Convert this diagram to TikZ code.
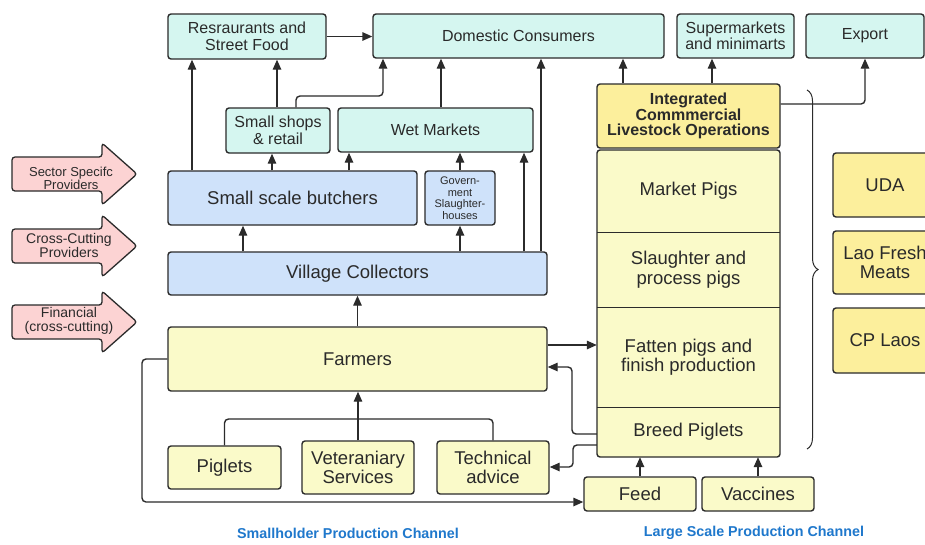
\documentclass[tikz,border=0pt]{standalone}
\usepackage{fontspec}
\setmainfont{Liberation Sans}
\usetikzlibrary{arrows.meta,decorations.pathreplacing}
\definecolor{lc}{HTML}{2B2B2B}
\definecolor{tc}{HTML}{2A2A2A}
\definecolor{cyanf}{HTML}{D5F6F0}
\definecolor{bluef}{HTML}{CFE2FA}
\definecolor{yelf}{HTML}{FAFAC9}
\definecolor{yeltwo}{HTML}{FCEF9C}
\definecolor{pinkf}{HTML}{FCD3D3}
\definecolor{labblue}{HTML}{1F78CC}
\tikzset{
  base/.style={draw=lc, line width=1.4pt, rounded corners=3pt, align=center, inner sep=0pt, text=tc},
  cyanbox/.style={base, fill=cyanf, font=\fontsize{16}{16.5}\selectfont},
  bluebox/.style={base, fill=bluef, font=\fontsize{18.5}{19.5}\selectfont},
  yelbox/.style={base, fill=yelf, font=\fontsize{18.5}{19}\selectfont},
  corpbox/.style={base, fill=yeltwo, font=\fontsize{18.5}{19.5}\selectfont},
  stage/.style={align=center, inner sep=0pt, text=tc, minimum width=183pt, font=\fontsize{18.5}{19.5}\selectfont},
  conn/.style={draw=lc, line width=1.4pt, rounded corners=4pt},
  arr/.style={conn, -{Triangle[length=10pt,width=8.5pt]}},
  pinkarrow/.style={draw=lc, line width=1.3pt, fill=pinkf, rounded corners=3pt},
  pinktext/.style={align=center, inner sep=0pt, text=tc},
  chan/.style={font=\fontsize{14.3}{15}\selectfont\bfseries, text=labblue, inner sep=0pt}
}
\begin{document}
\begin{tikzpicture}[x=1pt,y=-1pt]
\useasboundingbox (0,0) rectangle (925,544);
\fill[white] (0,0) rectangle (925,544);

% top row
\node[cyanbox, minimum width=158pt, minimum height=45pt] (rest) at (247,36.5) {Resraurants and\\Street Food};
\node[cyanbox, minimum width=291pt, minimum height=44pt] (dom) at (518.5,36) {Domestic Consumers};
\node[cyanbox, minimum width=117pt, minimum height=44pt] (sup) at (735.5,36) {Supermarkets\\and minimarts};
\node[cyanbox, minimum width=118pt, minimum height=44pt] (exp) at (865,36) {Export};

% retail row
\node[cyanbox, minimum width=104pt, minimum height=45pt] (shops) at (278,130.5) {Small shops\\\& retail};
\node[cyanbox, minimum width=195pt, minimum height=44pt] (wet) at (435.5,130) {Wet Markets};

% butchers row
\node[bluebox, minimum width=249pt, minimum height=54pt] (but) at (292.5,198) {Small scale butchers};
\node[base, fill=bluef, font=\fontsize{11}{11.5}\selectfont, minimum width=70pt, minimum height=54pt] (gov) at (460,198) {Govern-\\ment\\Slaughter-\\houses};

% village collectors, farmers
\node[bluebox, minimum width=379pt, minimum height=43pt] (vc) at (357.5,273.5) {Village Collectors};
\node[yelbox, minimum width=379pt, minimum height=64pt] (farm) at (357.5,359) {Farmers};

% inputs
\node[yelbox, minimum width=113pt, minimum height=43pt] (pig) at (224.5,467.5) {Piglets};
\node[yelbox, minimum width=112pt, minimum height=53pt] (vet) at (358,467.5) {Veteraniary\\Services};
\node[yelbox, minimum width=112pt, minimum height=53pt] (tech) at (493,467.5) {Technical\\advice};
\node[yelbox, minimum width=112pt, minimum height=34pt] (feed) at (640,494) {Feed};
\node[yelbox, minimum width=112pt, minimum height=34pt] (vac) at (758,494) {Vaccines};

% integrated operations
\node[base, fill=yeltwo, font=\fontsize{16}{15.5}\selectfont\bfseries, minimum width=183pt, minimum height=64pt] (int) at (688.5,116) {Integrated\\Commmercial\\Livestock Operations};
\filldraw[fill=yelf, draw=lc, line width=1.4pt, rounded corners=3pt] (597,150) rectangle (780,457);
\node[stage, minimum height=82pt] (market) at (688.5,191) {Market Pigs};
\node[stage, minimum height=75pt] (slaughter) at (688.5,269.5) {Slaughter and\\process pigs};
\node[stage, minimum height=100pt] (fatten) at (688.5,357) {Fatten pigs and\\finish production};
\node[stage, minimum height=50pt] (breed) at (688.5,432) {Breed Piglets};
\draw[lc, line width=1.4pt] (market.south west) -- (market.south east);
\draw[lc, line width=1.4pt] (slaughter.south west) -- (slaughter.south east);
\draw[lc, line width=1.4pt] (fatten.south west) -- (fatten.south east);

% companies
\node[corpbox, minimum width=104pt, minimum height=64pt] (uda) at (885,185) {UDA};
\node[corpbox, minimum width=104pt, minimum height=63pt] (lao) at (885,262.5) {Lao Fresh\\Meats};
\node[corpbox, minimum width=104pt, minimum height=65pt] (cp) at (885,340.5) {CP Laos};

% brace
\draw[lc, line width=1pt, decorate, decoration={brace, amplitude=11pt}] (807,90) -- (807,449);

% pink arrows
\draw[pinkarrow] (12,157) -- (102,157) -- (102,143) -- (137,174) -- (102,205) -- (102,191) -- (12,191) -- cycle;
\node[pinktext, font=\fontsize{13}{12}\selectfont] (sector) at (71,178) {Sector Specifc\\Providers};
\draw[pinkarrow] (12,229) -- (102,229) -- (102,215) -- (137,246) -- (102,277) -- (102,263) -- (12,263) -- cycle;
\node[pinktext, font=\fontsize{14}{14}\selectfont] (cross) at (69,245) {Cross-Cutting\\Providers};
\draw[pinkarrow] (12,305) -- (102,305) -- (102,291) -- (137,322) -- (102,353) -- (102,339) -- (12,339) -- cycle;
\node[pinktext, font=\fontsize{14}{14.5}\selectfont] (fin) at (69,321) {Financial\\(cross-cutting)};

% connectors, smallholder channel
\draw[arr] (rest.east) -- (dom.west |- rest.east);
\draw[arr] (but.north -| 192,0) -- (rest.south -| 192,0);
\draw[arr] (shops.north -| 277,0) -- (rest.south -| 277,0);
\draw[arr] (shops.north -| 296,0) -- (296,96) -- (383,96) -- (dom.south -| 383,0);
\draw[arr] (wet.north -| 441,0) -- (dom.south -| 441,0);
\draw[arr] (vc.north -| 541,0) -- (dom.south -| 541,0);
\draw[arr] (vc.north -| 524,0) -- (wet.south -| 524,0);
\draw[arr] (but.north -| 272,0) -- (shops.south -| 272,0);
\draw[arr] (but.north -| 349,0) -- (wet.south -| 349,0);
\draw[arr] (gov.north) -- (wet.south -| gov.north);
\draw[arr] (vc.north -| gov.south) -- (gov.south);
\draw[arr] (vc.north -| 243,0) -- (but.south -| 243,0);
\draw[arr] (farm.north) -- (vc.south -| farm.north);

% inputs to farmers
\draw[arr] (vet.north) -- (farm.south -| vet.north);
\draw[conn] (pig.north) -- (pig.north |- 0,419) -- (358,419);
\draw[conn] (tech.north) -- (tech.north |- 0,419) -- (358,419);

% large scale channel
\draw[arr] (int.north -| 623,0) -- (dom.south -| 623,0);
\draw[arr] (int.north -| 712,0) -- (sup.south -| 712,0);
\draw[arr] (int.east |- 0,104) -- (exp.south |- 0,104) -- (exp.south);
\draw[arr] (farm.east |- 0,345) -- (fatten.west |- 0,345);
\draw[arr] (breed.west |- 0,434) -- (572,434) -- (572,367) -- (farm.east |- 0,367);
\draw[arr] (breed.west |- 0,445) -- (573,445) -- (573,467) -- (tech.east |- 0,467);
\draw[arr] (farm.west |- 0,359) -- (142,359) -- (142,502) -- (feed.west |- 0,502);
\draw[arr] (feed.north) -- (breed.south -| feed.north);
\draw[arr] (vac.north) -- (breed.south -| vac.north);

% channel labels
\node[chan] (lsmall) at (348,533) {Smallholder Production Channel};
\node[chan] (llarge) at (754,533) {Large Scale Production Channel};
\end{tikzpicture}
\end{document}
